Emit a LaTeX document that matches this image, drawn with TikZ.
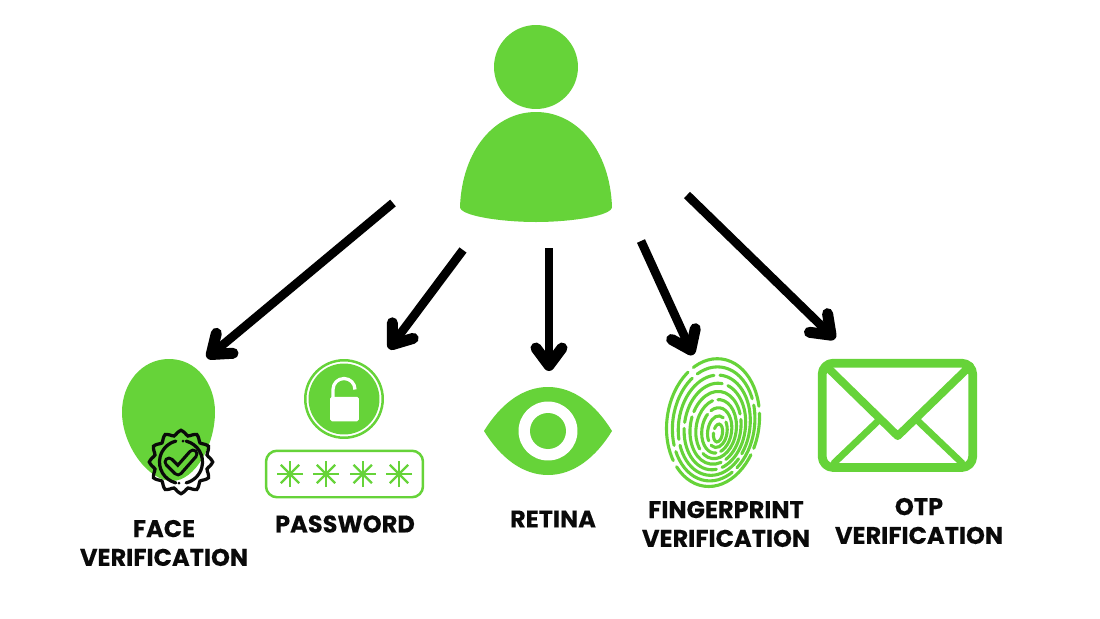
\documentclass[tikz,border=0pt]{standalone}
\usepackage{fontspec}
\setmainfont{Poppins}[BoldFont={Poppins Bold},BoldFeatures={FakeBold=.25}]
\usetikzlibrary{arrows.meta}
\definecolor{iconGreen}{HTML}{66D339}
\definecolor{inkBlack}{HTML}{0A0A0A}
\tikzset{
  pointer/.style={draw=black,line width=.175cm,-{Straight Barb[round,length=.35cm,width=.52cm,line width=.22cm]}},
  greenFill/.style={fill=iconGreen,draw=none},
  greenLine/.style={draw=iconGreen,line width=.05cm},
  ridge/.style={draw=iconGreen,line width=.062cm,line cap=round},
  envelopeLine/.style={draw=iconGreen,line width=.175cm,line cap=round,line join=round},
  badgeLine/.style={draw=inkBlack,line width=.065cm,line cap=round},
  caption/.style={font=\fontsize{13.7}{16.4}\selectfont\bfseries,text=inkBlack,align=center,inner sep=0pt}
}
\begin{document}
\begin{tikzpicture}[x=.02cm,y=-.02cm]
\useasboundingbox (0,0) rectangle (1100,619);

% person
\node(head)[greenFill,circle,minimum size=1.68cm,inner sep=0pt] at (536,67) {};
\fill[iconGreen] (460,207) .. controls (462,150) and (495,112) .. (536,112)
  .. controls (577,112) and (610,150) .. (612,207)
  .. controls (612,216) and (570,222) .. (536,222)
  .. controls (502,222) and (460,216) .. (460,207) -- cycle;

% face
\fill[iconGreen] (169,359) .. controls (197,359) and (215,384) .. (215,412)
  .. controls (215,445) and (195,481) .. (172,481)
  .. controls (148,481) and (122,445) .. (122,412)
  .. controls (122,384) and (141,359) .. (169,359) -- cycle;
\draw[badgeLine] plot[smooth cycle,samples=48,domain=0:352.5,variable=\t]
  ({181+(29.3+2.4*cos(12*\t))*cos(\t)},{462+(29.3+2.4*cos(12*\t))*sin(\t)});
\draw[badgeLine] (181,462) ++(-76:21.5) arc (-76:76:21.5);
\draw[badgeLine] (181,462) ++(104:21.5) arc (104:256:21.5);
\fill[inkBlack] (183,441) circle (1.5) (179,483) circle (1.5);
\draw[inkBlack,line width=.22cm,line cap=round,line join=round] (169,462) -- (178,471) -- (193,454);
\draw[iconGreen,line width=.09cm,line cap=round,line join=round] (169,462) -- (178,471) -- (193,454);

% password
\node(lockring)[greenLine,circle,minimum size=1.55cm,inner sep=0pt] at (344,399) {};
\node(lockdisc)[greenFill,circle,minimum size=1.42cm,inner sep=0pt] at (344,399) {};
\node(lockbody)[fill=white,rounded corners=1pt,minimum width=.58cm,minimum height=.49cm,inner sep=0pt] at (344.5,409) {};
\draw[white,line width=.065cm] (333,398) -- (333,389.5) arc (180:360:11);
\node(passbox)[greenLine,rounded corners=.22cm,minimum width=3.14cm,minimum height=.93cm,inner sep=0pt] at (344.5,474) {};
\foreach \x in {290,326,362.7,399}
  \foreach \a in {0,45,...,135}
    \draw[iconGreen,line width=.045cm] (\x,474) ++(\a:13) -- ++(\a+180:26);

% retina
\fill[iconGreen] (484,431) .. controls (500,405) and (522,387) .. (548,387)
  .. controls (574,387) and (596,405) .. (612,431)
  .. controls (596,457) and (574,475) .. (548,475)
  .. controls (522,475) and (500,457) .. (484,431) -- cycle;
\node(iris)[fill=white,circle,minimum size=1.18cm,inner sep=0pt] at (548,431) {};
\node(pupil)[greenFill,circle,minimum size=.72cm,inner sep=0pt] at (548,431) {};

% fingerprint
\foreach \i/\on/\off/\ph in {0/.42/.09/0,1/.7/.1/.2,2/.95/.1/.5,3/1.1/.11/.1,4/1.35/.11/.7,5/1.2/.12/.3,6/1.6/.12/1.1,7/1.45/.13/.6,8/1.9/.14/1.5}{
  \pgfmathsetmacro{\cx}{718-.62*\i}
  \pgfmathsetmacro{\cy}{433-1.3*\i}
  \pgfmathsetmacro{\rx}{4.5+5.2*\i}
  \pgfmathsetmacro{\ry}{9+6.9*\i}
  \draw[ridge,dash pattern=on \on cm off \off cm,dash phase=\ph cm] (\cx,\cy) ellipse [x radius=\rx,y radius=\ry,rotate=-8];
}

% otp
\draw[envelopeLine,rounded corners=.22cm] (822.2,363.2) rectangle (972.7,467.5);
\draw[envelopeLine,line width=.16cm] (826,366) -- (897.7,436) -- (970,366);
\draw[iconGreen,line width=.135cm,line cap=round] (834,463) -- (878,421) (962,463) -- (918,421);

% labels
\node(facetext)[caption] at (164,543) {FACE\\VERIFICATION};
\node(passtext)[caption] at (345,524) {PASSWORD};
\node(retinatext)[caption] at (553,519) {RETINA};
\node(fingertext)[caption] at (726,524) {FINGERPRINT\\VERIFICATION};
\node(otptext)[caption] at (919,521) {OTP\\VERIFICATION};

% arrows
\coordinate (out1) at (393,203);
\coordinate (out2) at (463,250);
\coordinate (out3) at (549,248);
\coordinate (out4) at (641,241);
\coordinate (out5) at (687,195);
\coordinate (in1) at (207,358);
\coordinate (in2) at (389,349);
\coordinate (in3) at (549,371);
\coordinate (in4) at (693,355);
\coordinate (in5) at (835,339);
\foreach \n in {1,...,5}
  \draw[pointer] (out\n) -- (in\n);

\end{tikzpicture}
\end{document}
